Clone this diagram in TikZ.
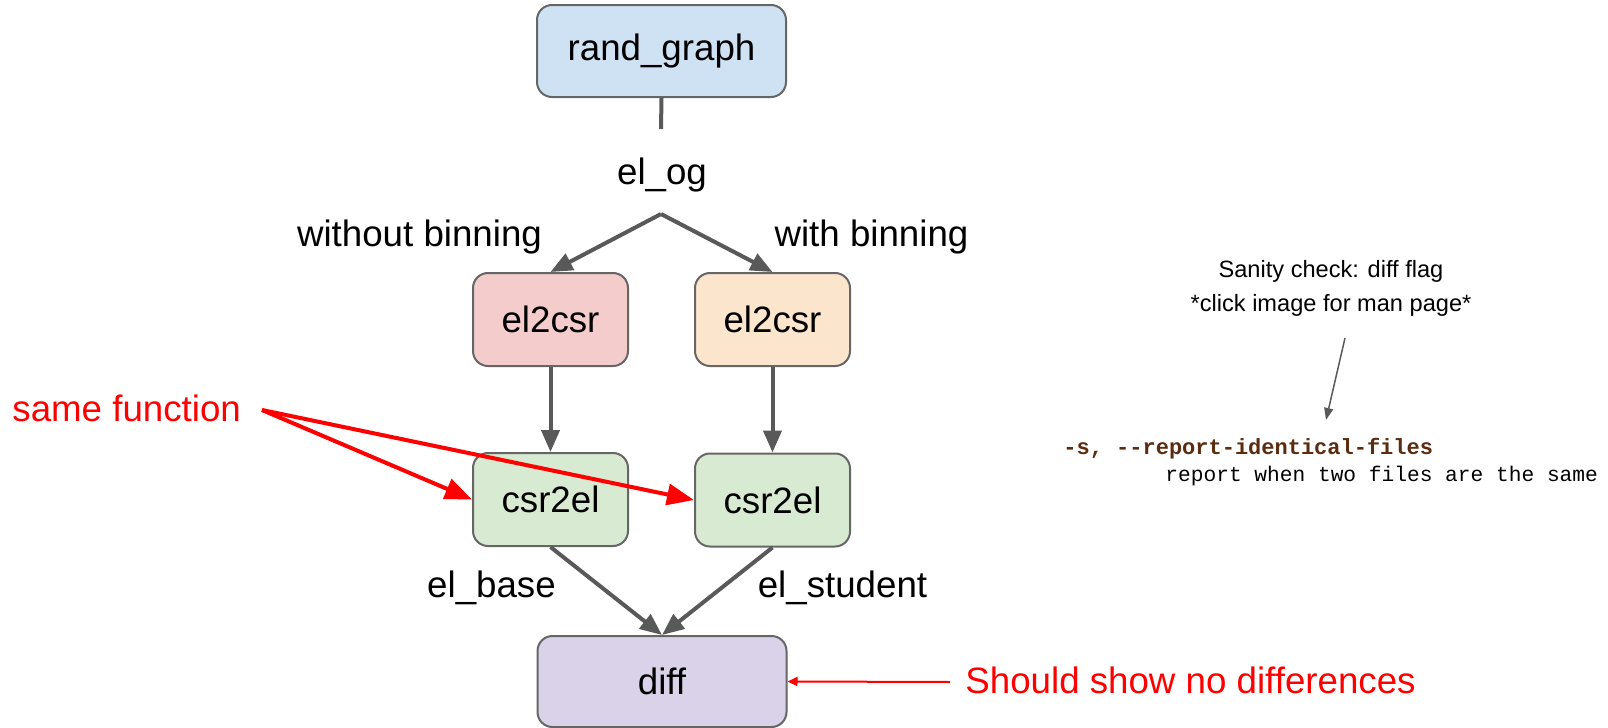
\documentclass[tikz,border=0pt]{standalone}
\usepackage{fontspec}
\setmainfont{Liberation Sans}
\setmonofont{Liberation Mono}
\usetikzlibrary{arrows.meta}
\definecolor{boxline}{HTML}{666666}
\definecolor{conn}{HTML}{595959}
\definecolor{fblue}{HTML}{CFE2F3}
\definecolor{fred}{HTML}{F4CCCC}
\definecolor{forange}{HTML}{FCE5CD}
\definecolor{fgreen}{HTML}{D9EAD3}
\definecolor{fpurple}{HTML}{D9D2E9}
\definecolor{manbrown}{HTML}{5B2C0F}
\newcommand{\lblfont}{\fontsize{18.35}{22}\selectfont}
\newcommand{\smallfont}{\fontsize{11.8}{17}\selectfont}
\newcommand{\manfont}{\ttfamily\fontsize{10.6}{12}\selectfont}
\begin{document}
\begin{tikzpicture}[x=0.5pt,y=-0.5pt,
  box/.style={draw=boxline,line width=1pt,rounded corners=7.5pt,minimum width=77.5pt,minimum height=46.5pt,inner sep=0pt,font=\lblfont},
  widebox/.style={box,minimum width=124.5pt,minimum height=46pt},
  flow/.style={draw=conn,line width=2pt,-{Triangle[length=11pt,width=9pt]}},
  note/.style={draw=red,line width=2pt,-{Triangle[length=13.5pt,width=10.5pt]}},
  lbl/.style={font=\lblfont,anchor=base,inner sep=0pt}]
\useasboundingbox (0,0) rectangle (1608,728);
%\draw[help lines] (0,0) grid[step=100] (1608,728);
\node[widebox,fill=fblue] (rand) at (661.5,51) {rand\_graph};
\node[box,fill=fred] (elL) at (550.5,319.5) {el2csr};
\node[box,fill=forange] (elR) at (772.5,319.5) {el2csr};
\node[box,fill=fgreen] (csrL) at (550.5,499.5) {csr2el};
\node[box,fill=fgreen] (csrR) at (772.5,500) {csr2el};
\node[widebox,fill=fpurple,minimum height=45.5pt] (diff) at (662,681.5) {diff};
\coordinate (stem) at (661,129);
\coordinate (fork) at (661,214);
\node[lbl] (og) at (662,184) {el\_og};
\node[lbl] (without) at (419.5,246) {without binning};
\node[lbl] (with) at (871.5,246) {with binning};
\node[lbl] (base) at (491.5,597) {el\_base};
\node[lbl] (student) at (842.5,597) {el\_student};
\draw[conn,line width=2pt] (rand.south) -- (stem);
\draw[flow] (fork) -- (elL.north);
\draw[flow] (fork) -- (elR.north);
\draw[flow] (elL.south) -- (csrL.north);
\draw[flow] (elR.south) -- (csrR.north);
\draw[flow] (csrL.south) -- (diff.north);
\draw[flow] (csrR.south) -- (diff.north);
% notes in red
\node[lbl,anchor=base west,text=red] (same) at (12,421) {same function};
\coordinate (samefrom) at (262,410);
\draw[note] (samefrom) -- (csrL.west);
\draw[note] (samefrom) -- (csrR.west);
\node[lbl,anchor=base west,text=red] (nodiff) at (965,693) {Should show no differences};
\coordinate (nodifffrom) at (950,682);
\draw[red,line width=1pt,-{Triangle[length=5pt,width=4.5pt]}] (nodifffrom) -- (diff.east);
% man page
\node[font=\smallfont,align=center,inner sep=0pt] (sanity) at (1331,288) {Sanity check: diff flag\\*click image for man page*};
\coordinate (sanityfrom) at (1345,338);
\coordinate (sanityto) at (1326,420);
\draw[conn,line width=0.75pt,-{Triangle[length=6pt,width=4.5pt]}] (sanityfrom) -- (sanityto);
\node[font=\manfont\fontsize{11}{12}\selectfont\bfseries,text=manbrown,anchor=base west,inner sep=0pt] (flag) at (1063,454) {-s, -{}-report-identical-files};
\node[font=\manfont,anchor=base west,inner sep=0pt] (flagdesc) at (1165,481) {report when two files are the same};
\end{tikzpicture}
\end{document}
